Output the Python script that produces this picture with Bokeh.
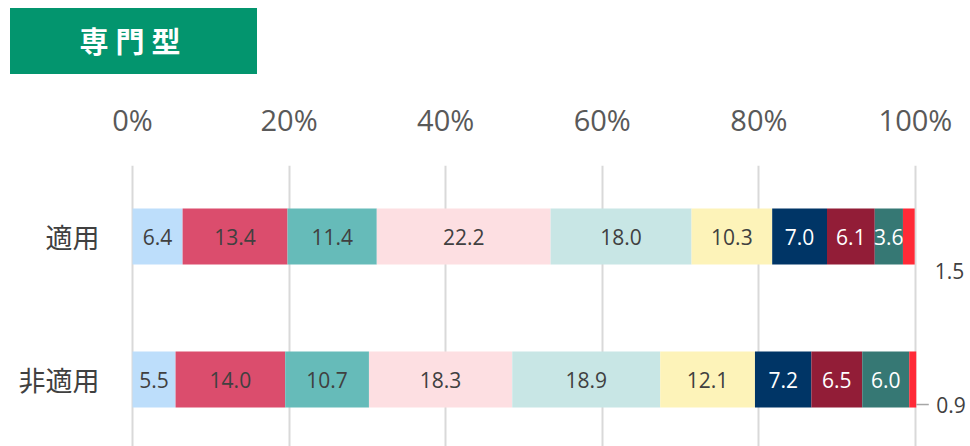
from bokeh.plotting import figure
from bokeh.models import ColumnDataSource, Range1d, FixedTicker, PrintfTickFormatter, Div
from bokeh.layouts import column
from bokeh.core.properties import value
from bokeh.embed import file_html
from bokeh.resources import INLINE

# ---- data ----
title_text = "専門型"
categories = ["適用", "非適用"]
tekiyo = [6.4, 13.4, 11.4, 22.2, 18.0, 10.3, 7.0, 6.1, 3.6, 1.5]
hi_tekiyo = [5.5, 14.0, 10.7, 18.3, 18.9, 12.1, 7.2, 6.5, 6.0, 0.9]
colors = ["#BDDEFB", "#DB4D6D", "#66BBB9", "#FDDFE2", "#C8E6E5",
          "#FDF3B9", "#003566", "#921D37", "#367874", "#FF2A37"]
text_colors = ["#404040"] * 6 + ["#FFFFFF"] * 3 + ["#404040"]
x_ticks = [0, 20, 40, 60, 80, 100]

series = [tekiyo, hi_tekiyo]
ypos = [1, 0]  # 適用 on top

left, right, ys, fills, mids, labels, tcols, lab_ys = [], [], [], [], [], [], [], []
out_x, out_y, out_txt = [], [], []
lead_x0, lead_x1, lead_y = [], [], []
BAR_H = 0.392
for vals, y in zip(series, ypos):
    acc = 0.0
    for i, v in enumerate(vals):
        left.append(acc)
        right.append(acc + v)
        ys.append(y)
        fills.append(colors[i])
        if i < len(vals) - 1:
            mids.append(acc + v / 2)
            labels.append(f"{v:.1f}")
            tcols.append(text_colors[i])
            lab_ys.append(y)
        acc += v
    out_x.append(acc)
    out_txt.append(f"{vals[-1]:.1f}")
    out_y.append(y - (0.238 if y == 1 else 0.175))
    if y == 0:
        lead_x0.append(acc)
        lead_x1.append(acc + 1.6)
        lead_y.append(y - 0.175)

bar_src = ColumnDataSource(dict(left=left, right=right, y=ys, color=fills))
lab_src = ColumnDataSource(dict(x=mids, y=lab_ys, text=labels, color=tcols))
out_src = ColumnDataSource(dict(x=out_x, y=out_y, text=out_txt))

p = figure(width=961, height=372, output_backend="svg", toolbar_location=None,
           x_range=Range1d(-0.255, 106.9), y_range=Range1d(-0.4685, 1.4965),
           x_axis_location="above", min_border_left=122, min_border_right=0,
           min_border_top=91, min_border_bottom=0)
p.outline_line_color = None
p.background_fill_color = "white"

p.hbar(y="y", left="left", right="right", height=BAR_H, fill_color="color",
       line_color=None, source=bar_src)
p.text(x="x", y="y", text="text", text_color="color", source=lab_src,
       text_align="center", text_baseline="middle",
       text_font=value("Open Sans"), text_font_size="21px")
p.text(x="x", y="y", text="text", source=out_src, x_offset=20,
       text_align="left", text_baseline="middle", text_color="#404040",
       text_font=value("Open Sans"), text_font_size="21px")
p.segment(x0=lead_x0, y0=lead_y, x1=lead_x1, y1=lead_y,
          line_color="#A6A6A6", line_width=1.5)

# x axis (top)
xa = p.xaxis[0]
xa.ticker = FixedTicker(ticks=x_ticks)
xa.formatter = PrintfTickFormatter(format="%d%%")
xa.axis_line_color = None
xa.major_tick_line_color = None
xa.minor_tick_line_color = None
xa.major_label_text_font = "Open Sans"
xa.major_label_text_font_size = "29px"
xa.major_label_text_color = "#595959"
xa.major_label_standoff = 21

# y axis
ya = p.yaxis[0]
ya.ticker = FixedTicker(ticks=ypos)
ya.major_label_overrides = {y: c for y, c in zip(ypos, categories)}
ya.axis_line_color = None
ya.major_tick_line_color = None
ya.minor_tick_line_color = None
ya.major_label_text_font = "Noto Sans CJK JP"
ya.major_label_text_font_size = "27px"
ya.major_label_text_color = "#404040"
ya.major_label_standoff = 25

p.xgrid.ticker = FixedTicker(ticks=x_ticks)
p.xgrid.grid_line_color = "#D9D9D9"
p.xgrid.grid_line_width = 2
p.ygrid.grid_line_color = None

div = Div(text=(
    '<div style="margin-left:2px;width:247px;height:66px;background:#03956E;'
    'color:#ffffff;font-family:\'Noto Sans CJK JP\';font-weight:bold;font-size:29px;'
    'letter-spacing:7px;display:flex;align-items:center;justify-content:center;">'
    + title_text + '</div>'), width=250, height=66, margin=0)

layout = column(div, p, spacing=0, margin=(8, 0, 0, 8))
open("out.html", "w").write(file_html(layout, INLINE))
